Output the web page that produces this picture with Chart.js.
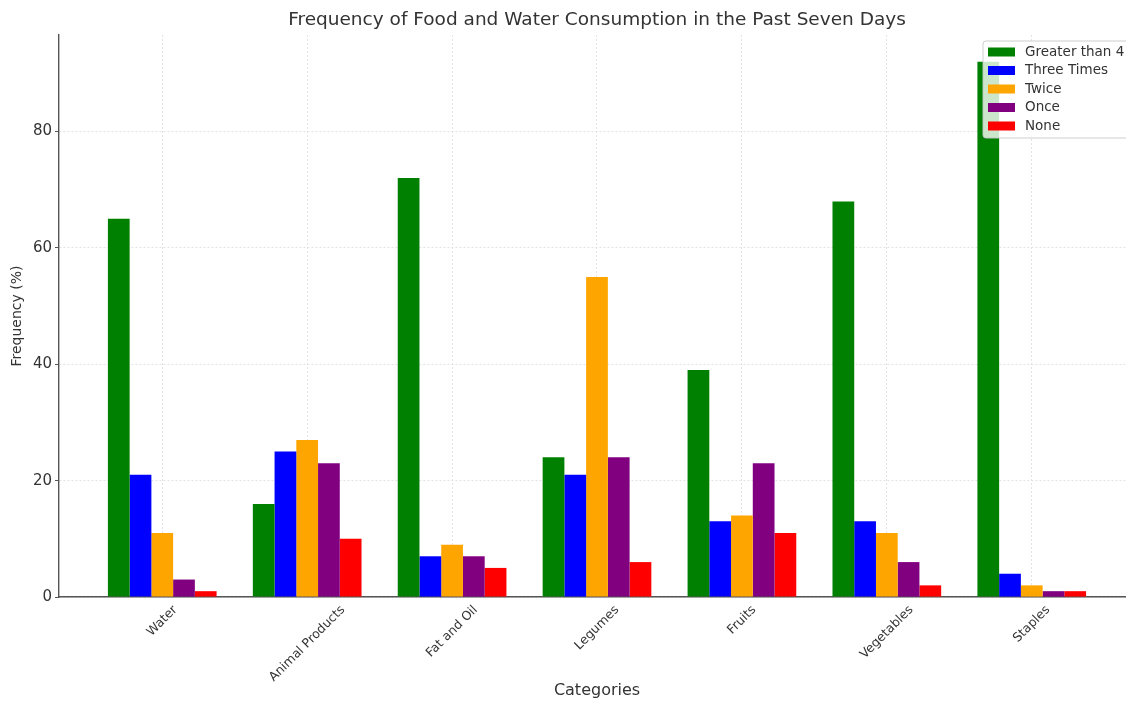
<!DOCTYPE html>
<html lang="en">
<head>
<meta charset="UTF-8">
<title>Frequency of Food and Water Consumption</title>
<script src="https://cdn.jsdelivr.net/npm/chart.js"></script>
<style>
  html, body { margin: 0; padding: 0; background: #fff; overflow: hidden; }
  .chart-box { position: relative; width: 1135px; height: 702px; }
</style>
</head>
<body>
<div class="chart-box"><canvas id="chart"></canvas></div>
<script>
const titleText = 'Frequency of Food and Water Consumption in the Past Seven Days';
const categories = ['Water', 'Animal Products', 'Fat and Oil', 'Legumes', 'Fruits', 'Vegetables', 'Staples'];
const seriesNames = ['Greater than 4', 'Three Times', 'Twice', 'Once', 'None'];
const seriesColors = ['#008000', '#0000ff', '#ffa500', '#800080', '#ff0000'];
const greaterThan4 = [65, 16, 72, 24, 39, 68, 92];
const threeTimes = [21, 25, 7, 21, 13, 13, 4];
const twice = [11, 27, 9, 55, 14, 11, 2];
const once = [3, 23, 7, 24, 23, 6, 1];
const none = [1, 10, 5, 6, 11, 2, 1];
const yTicks = [0, 20, 40, 60, 80];

const seriesValues = [greaterThan4, threeTimes, twice, once, none];
const textColor = '#333';

Chart.defaults.font.family = '"DejaVu Sans", sans-serif';
Chart.defaults.color = textColor;

// title, rotated category labels and the legend box are drawn here
const extras = {
  id: 'extras',
  afterDraw(chart) {
    const { ctx, chartArea } = chart;
    const xScale = chart.scales.x;
    ctx.save();
    ctx.fillStyle = textColor;
    ctx.textAlign = 'center';
    ctx.textBaseline = 'middle';
    ctx.font = '18.5px "DejaVu Sans"';
    ctx.fillText(titleText, (chartArea.left + chartArea.right) / 2, 20);

    ctx.font = '12.5px "DejaVu Sans"';
    categories.forEach((name, i) => {
      const x = xScale.getPixelForValue(i);
      const w = ctx.measureText(name).width;
      const half = (w + 14) / (2 * Math.SQRT2);
      ctx.save();
      ctx.translate(x, chartArea.bottom + 6 + half);
      ctx.rotate(-Math.PI / 4);
      ctx.fillText(name, 0, 0);
      ctx.restore();
    });

    // legend
    const bx = 983, by = 41, bw = 147, bh = 97;
    ctx.beginPath();
    ctx.roundRect(bx, by, bw, bh, 3);
    ctx.fillStyle = 'rgba(255,255,255,0.8)';
    ctx.fill();
    ctx.strokeStyle = 'rgba(200,200,200,0.9)';
    ctx.lineWidth = 1;
    ctx.stroke();
    ctx.font = '13.5px "DejaVu Sans"';
    ctx.textAlign = 'left';
    chart.data.datasets.forEach((ds, k) => {
      const cy = 52 + k * 18.5;
      ctx.fillStyle = ds.backgroundColor;
      ctx.fillRect(988, cy - 4.5, 27, 9);
      ctx.fillStyle = textColor;
      ctx.fillText(ds.label, 1025, cy);
    });
    ctx.restore();
  }
};

new Chart(document.getElementById('chart'), {
  type: 'bar',
  data: {
    datasets: seriesNames.map((name, k) => ({
      label: name,
      data: categories.map((c, i) => ({ x: i, y: seriesValues[k][i] })),
      backgroundColor: seriesColors[k],
      borderWidth: 0,
      categoryPercentage: 0.75,
      barPercentage: 1.0
    }))
  },
  options: {
    responsive: true,
    maintainAspectRatio: false,
    animation: false,
    layout: { padding: { top: 35, left: 0, right: 0, bottom: 0 } },
    plugins: {
      legend: { display: false },
      title: { display: false },
      tooltip: { enabled: false }
    },
    scales: {
      x: {
        type: 'linear',
        min: -0.7125,
        max: 6.7125,
        offset: false,
        afterBuildTicks: s => { s.ticks = categories.map((c, i) => ({ value: i })); },
        afterFit: s => { s.height = 105; },
        ticks: { display: false },
        grid: { offset: false, color: '#dcdcdc', lineWidth: 0.8, drawTicks: false },
        border: { color: '#555', width: 1.4, dash: [2, 2] },
        title: {
          display: true,
          text: 'Categories',
          font: { size: 16 },
          padding: { top: 0, bottom: 2 }
        }
      },
      y: {
        min: 0,
        max: 96.6,
        afterBuildTicks: s => { s.ticks = yTicks.map(v => ({ value: v })); },
        afterFit: s => { s.width = 59; },
        ticks: { font: { size: 15 }, padding: 3, color: textColor },
        grid: { color: '#dcdcdc', lineWidth: 0.8, tickLength: 4, tickColor: '#555', tickWidth: 1 },
        border: { color: '#555', width: 1.4, dash: [2, 2] },
        title: {
          display: true,
          text: 'Frequency (%)',
          font: { size: 14 },
          padding: { top: 9, bottom: 0 }
        }
      }
    }
  },
  plugins: [extras]
});
</script>
</body>
</html>
